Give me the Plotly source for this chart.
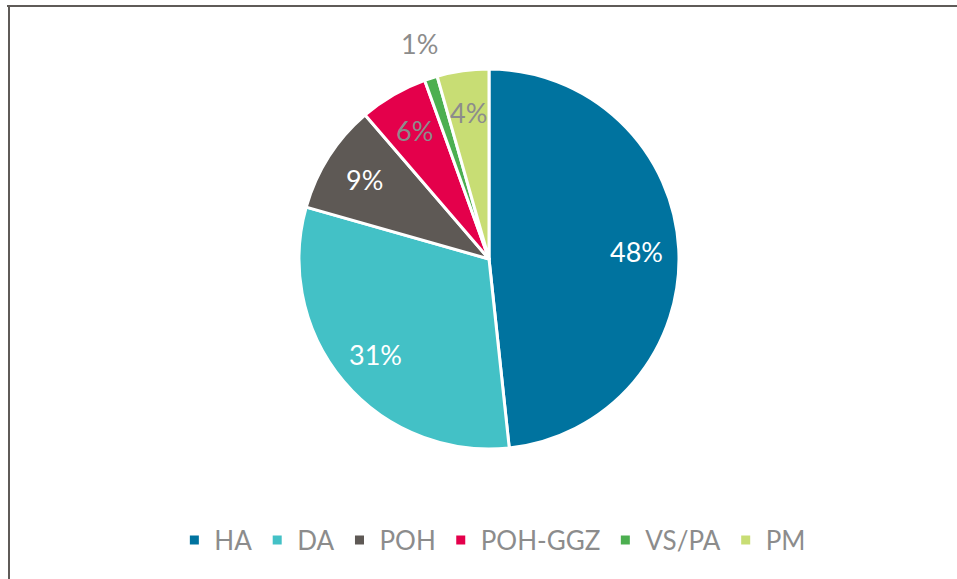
import math
import plotly.graph_objects as go

labels = ["HA", "DA", "POH", "POH-GGZ", "VS/PA", "PM"]
values = [48.3, 31.1, 9.3, 5.8, 1.1, 4.4]
colors = ["#00739f", "#43c1c6", "#5e5955", "#e4004b", "#4caf50", "#c8dd74"]
text_colors = ["#ffffff", "#ffffff", "#ffffff", "#8c8c8c", "#8c8c8c", "#8c8c8c"]
label_outside = [False, False, False, False, True, False]

W, H = 957, 579
cx, cy, r = 489, 259, 190
FONT = "Lato, Open Sans, sans-serif"

fig = go.Figure(go.Pie(
    labels=labels,
    values=values,
    sort=False,
    direction="clockwise",
    rotation=0,
    marker=dict(colors=colors, line=dict(color="#ffffff", width=3)),
    textinfo="none",
    domain=dict(x=[(cx - r) / W, (cx + r) / W], y=[1 - (cy + r) / H, 1 - (cy - r) / H]),
    hoverinfo="label+percent",
))

# data labels placed at each slice's mid-angle
total = sum(values)
annotations = []
cum = 0.0
for lab, v, col, out in zip(labels, values, text_colors, label_outside):
    mid = (cum + v / 2) / total * 2 * math.pi
    cum += v
    f = 1.19 if out else 0.78
    px = cx + f * r * math.sin(mid)
    py = cy - f * r * math.cos(mid)
    annotations.append(dict(
        x=px / W, y=1 - py / H, xref="paper", yref="paper",
        text=f"{round(v / total * 100):d}%", showarrow=False,
        xanchor="center", yanchor="middle",
        font=dict(family=FONT, size=27, color=col),
    ))

fig.update_layout(
    width=W, height=H,
    margin=dict(l=0, r=0, t=0, b=0),
    paper_bgcolor="#ffffff",
    plot_bgcolor="#ffffff",
    showlegend=True,
    legend=dict(
        orientation="h",
        x=0.515, xanchor="center",
        y=(H - 540) / H, yanchor="middle",
        font=dict(family=FONT, size=26, color="#8c8c8c"),
        itemwidth=30,
    ),
    annotations=annotations,
    shapes=[
        dict(type="line", xref="paper", yref="paper",
             x0=7 / W, x1=1.0, y0=1 - 6 / H, y1=1 - 6 / H,
             line=dict(color="#5f5b58", width=2)),
        dict(type="line", xref="paper", yref="paper",
             x0=9 / W, x1=9 / W, y0=1 - 6 / H, y1=0,
             line=dict(color="#5f5b58", width=2)),
    ],
)

fig.write_html("out.html", config={"displayModeBar": False},
               post_script="document.body.style.margin='0px';")
